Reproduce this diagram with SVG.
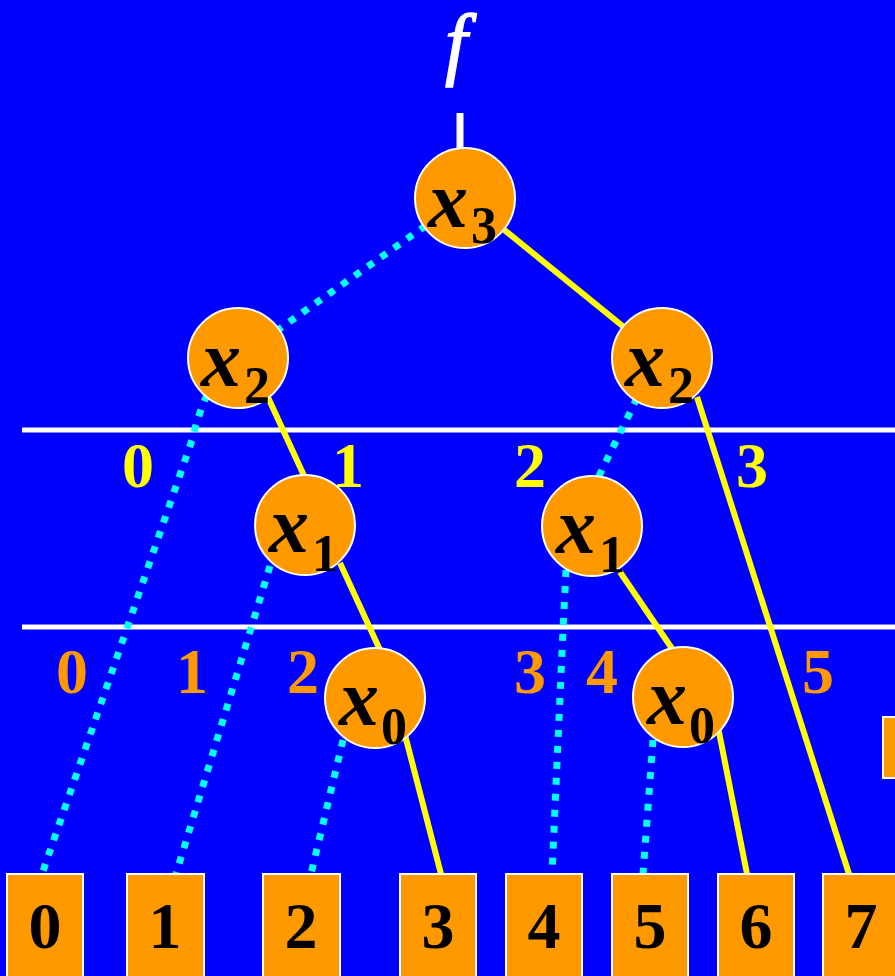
<svg xmlns="http://www.w3.org/2000/svg" width="895" height="976" viewBox="0 0 895 976">
<style>
.node circle{fill:#FF9900;stroke:#FFFFFF;stroke-width:2}
.leaf rect{fill:#FF9900;stroke:#FFFFFF;stroke-width:2}
.var{font-family:"Liberation Serif","Times New Roman",serif;font-weight:bold;font-style:italic;font-size:80px;fill:#000}
.sub{font-family:"Liberation Serif","Times New Roman",serif;font-weight:bold;font-size:52px;fill:#000}
.leaf text{font-family:"Liberation Serif","Times New Roman",serif;font-weight:bold;font-size:66px;fill:#000;text-anchor:middle}
.lab{font-family:"Liberation Serif","Times New Roman",serif;font-weight:bold;font-size:64px;text-anchor:middle}
.y{fill:#FFFF00}
.o{fill:#FF9900}
.hi{stroke:#FFFF00;stroke-width:6;fill:none}
.lo{stroke:#00FFFF;stroke-width:7;fill:none;stroke-dasharray:7 9}
</style>
<rect x="0" y="0" width="895" height="976" fill="#0000FF"/>
<text x="456" y="70" font-family="Liberation Serif, Times New Roman, serif" font-style="italic" font-size="80" fill="#FFFFFF" stroke="#FFFFFF" stroke-width="1.5" text-anchor="middle">f</text>
<line x1="460" y1="113" x2="460" y2="150" stroke="#FFFFFF" stroke-width="7"/>
<line x1="22" y1="430" x2="895" y2="430" stroke="#FFFFFF" stroke-width="5"/>
<line x1="22" y1="627" x2="895" y2="627" stroke="#FFFFFF" stroke-width="5"/>
<g id="labels">
<text class="lab y" x="138" y="487">0</text>
<text class="lab y" x="348" y="487">1</text>
<text class="lab y" x="530" y="487">2</text>
<text class="lab y" x="752" y="487">3</text>
<text class="lab o" x="72" y="693">0</text>
<text class="lab o" x="192" y="693">1</text>
<text class="lab o" x="303" y="693">2</text>
<text class="lab o" x="530" y="693">3</text>
<text class="lab o" x="602" y="693">4</text>
<text class="lab o" x="818" y="693">5</text>
</g>
<g id="connectors">
<line class="lo" x1="465" y1="198" x2="238" y2="358"/>
<line class="hi" x1="465" y1="198" x2="662" y2="358"/>
<path class="lo" d="M207,395 Q198,415 192,440 L42,874"/>
<line class="hi" x1="266" y1="393" x2="306" y2="480"/>
<line class="lo" x1="637" y1="398" x2="598" y2="478"/>
<line class="hi" x1="697" y1="397" x2="849" y2="874"/>
<line class="lo" x1="270" y1="566" x2="176" y2="874"/>
<line class="hi" x1="340" y1="563" x2="380" y2="650"/>
<path class="lo" d="M566,570 L563,630 L552,874"/>
<line class="hi" x1="620" y1="572" x2="673" y2="650"/>
<line class="lo" x1="343" y1="740" x2="311" y2="874"/>
<line class="hi" x1="405" y1="735" x2="441" y2="874"/>
<line class="lo" x1="653" y1="740" x2="643" y2="874"/>
<line class="hi" x1="718" y1="727" x2="747" y2="874"/>
</g>
<g id="n_x3" class="node"><circle cx="465" cy="198" r="50"/><text class="var" x="428" y="227">x</text><text class="sub" x="471" y="243">3</text></g>
<g id="n_x2a" class="node"><circle cx="238" cy="358" r="50"/><text class="var" x="201" y="386">x</text><text class="sub" x="244" y="403">2</text></g>
<g id="n_x2b" class="node"><circle cx="662" cy="358" r="50"/><text class="var" x="625" y="386">x</text><text class="sub" x="668" y="403">2</text></g>
<g id="n_x1a" class="node"><circle cx="305" cy="525" r="50"/><text class="var" x="269" y="552">x</text><text class="sub" x="312" y="571">1</text></g>
<g id="n_x1b" class="node"><circle cx="592" cy="526" r="50"/><text class="var" x="556" y="553">x</text><text class="sub" x="599" y="572">1</text></g>
<g id="n_x0a" class="node"><circle cx="375" cy="698" r="50"/><text class="var" x="339" y="725">x</text><text class="sub" x="381" y="744">0</text></g>
<g id="n_x0b" class="node"><circle cx="683" cy="697" r="50"/><text class="var" x="647" y="724">x</text><text class="sub" x="689" y="743">0</text></g>
<g id="leaf0" class="leaf"><rect x="7" y="874" width="76" height="110"/><text x="45" y="948">0</text></g>
<g id="leaf1" class="leaf"><rect x="127" y="874" width="77" height="110"/><text x="165" y="948">1</text></g>
<g id="leaf2" class="leaf"><rect x="263" y="874" width="77" height="110"/><text x="301" y="948">2</text></g>
<g id="leaf3" class="leaf"><rect x="400" y="874" width="76" height="110"/><text x="438" y="948">3</text></g>
<g id="leaf4" class="leaf"><rect x="506" y="874" width="76" height="110"/><text x="544" y="948">4</text></g>
<g id="leaf5" class="leaf"><rect x="612" y="874" width="76" height="110"/><text x="650" y="948">5</text></g>
<g id="leaf6" class="leaf"><rect x="718" y="874" width="76" height="110"/><text x="756" y="948">6</text></g>
<g id="leaf7" class="leaf"><rect x="823" y="874" width="77" height="110"/><text x="861" y="948">7</text></g>
<g id="partial" class="leaf"><rect x="883" y="717" width="20" height="61"/></g>
</svg>
